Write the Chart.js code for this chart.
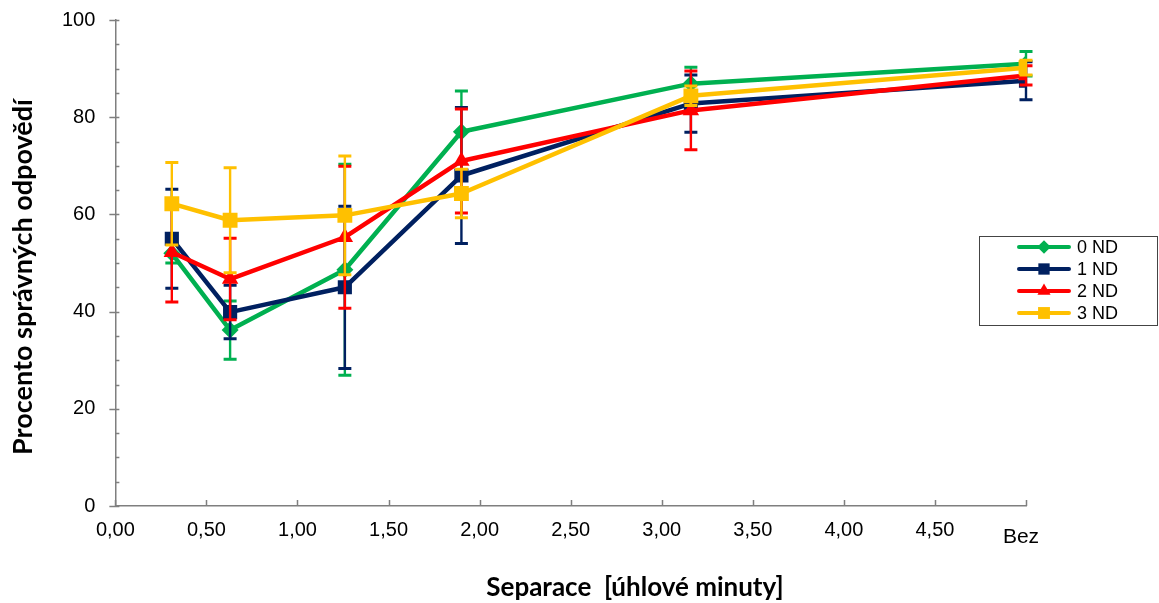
<!DOCTYPE html>
<html>
<head>
<meta charset="utf-8">
<script src="https://cdn.jsdelivr.net/npm/chart.js@4.4.1/dist/chart.umd.min.js"></script>
<style>
  html, body { margin: 0; padding: 0; background: #ffffff; }
  #wrap { width: 1159px; height: 603px; }
</style>
</head>
<body>
<div id="wrap"><canvas id="c" width="1159" height="603"></canvas></div>
<script>
// ---- data ----
const xValues = [0.31, 0.63, 1.26, 1.9, 3.16, 5];
const seriesLabels = ['0 ND', '1 ND', '2 ND', '3 ND'];
const nd0 = [52.0, 36.2, 48.6, 77.0, 86.9, 91.0];
const nd0Err = [2.0, 6.0, 21.7, 8.4, 3.4, 2.5];
const nd1 = [55.0, 39.9, 45.0, 68.0, 82.8, 87.5];
const nd1Err = [10.2, 5.5, 16.7, 14.0, 5.9, 3.9];
const nd2 = [52.2, 46.7, 55.3, 71.0, 81.4, 88.6];
const nd2Err = [10.2, 8.4, 14.6, 10.7, 8.1, 2.0];
const nd3 = [62.2, 58.8, 59.8, 64.3, 84.4, 90.2];
const nd3Err = [8.5, 10.8, 12.2, 5.0, 2.0, 1.5];
const xTickStep = 0.5;
const yTickStep = 20;
const yMinorStep = 5;
const lastTickLabel = 'Bez';
const xTitle = 'Separace  [úhlové minuty]';
const yTitle = 'Procento správných odpovědí';

const colors = ['#00B050', '#002060', '#FF0000', '#FFC000'];
const pointStyles = ['rectRot', 'rect', 'triangle', 'rect'];
const pointRadii = [8.5, 10, 9.5, 10.5];
const seriesValues = [nd0, nd1, nd2, nd3];
const seriesErrors = [nd0Err, nd1Err, nd2Err, nd3Err];

const datasets = seriesLabels.map((lab, i) => ({
  label: lab,
  data: xValues.map((x, k) => ({ x: x, y: seriesValues[i][k] })),
  errors: seriesErrors[i],
  borderColor: colors[i],
  backgroundColor: colors[i],
  borderWidth: 4.5,
  pointStyle: pointStyles[i],
  pointRadius: pointRadii[i],
  pointBorderWidth: 0,
  pointBackgroundColor: colors[i],
  tension: 0,
  order: seriesLabels.length - 1 - i
}));

const fmt = v => v.toFixed(2).replace('.', ',');

// error bars, drawn just below each series' line
const errorBars = {
  id: 'errorBars',
  beforeDatasetDraw(chart, args) {
    const ds = chart.data.datasets[args.index];
    const meta = args.meta;
    const ys = chart.scales.y;
    const ctx = chart.ctx;
    ctx.save();
    ctx.strokeStyle = ds.borderColor;
    ctx.lineCap = 'butt';
    meta.data.forEach((pt, k) => {
      const v = ds.data[k].y, e = ds.errors[k];
      const top = ys.getPixelForValue(v + e);
      const bot = ys.getPixelForValue(v - e);
      ctx.lineWidth = 2.4;
      ctx.beginPath();
      ctx.moveTo(pt.x, top); ctx.lineTo(pt.x, bot);
      ctx.stroke();
      ctx.lineWidth = 3;
      ctx.beginPath();
      ctx.moveTo(pt.x - 6.5, top); ctx.lineTo(pt.x + 6.5, top);
      ctx.moveTo(pt.x - 6.5, bot); ctx.lineTo(pt.x + 6.5, bot);
      ctx.stroke();
    });
    ctx.restore();
  }
};

// axis tick marks, titles, "Bez" label, legend
const decor = {
  id: 'decor',
  beforeDatasetsDraw(chart) {
    const ctx = chart.ctx;
    const xs = chart.scales.x, ys = chart.scales.y;
    const area = chart.chartArea;
    ctx.save();
    ctx.strokeStyle = '#7f7f7f';
    ctx.lineWidth = 1.5;
    ctx.beginPath();
    for (let v = xs.min; v <= xs.max + 1e-9; v += xTickStep) {
      const px = Math.round(xs.getPixelForValue(v)) + 0.5;
      ctx.moveTo(px, area.bottom); ctx.lineTo(px, area.bottom - 6);
    }
    for (let v = ys.min; v <= ys.max + 1e-9; v += yMinorStep) {
      const py = Math.round(ys.getPixelForValue(v)) + 0.5;
      if (Math.abs(v % yTickStep) < 1e-9) {
        ctx.moveTo(area.left - 6, py); ctx.lineTo(area.left + 4, py);
      } else {
        ctx.moveTo(area.left, py); ctx.lineTo(area.left + 4, py);
      }
    }
    ctx.stroke();
    ctx.restore();
  },
  afterDraw(chart) {
    const ctx = chart.ctx;
    const xs = chart.scales.x;
    const area = chart.chartArea;
    ctx.save();
    ctx.fillStyle = '#000';
    // "Bez" label at last x tick
    ctx.font = '21px "Liberation Sans", Arial, sans-serif';
    ctx.textAlign = 'center';
    ctx.textBaseline = 'middle';
    ctx.fillText(lastTickLabel, xs.getPixelForValue(xs.max) - 5, area.bottom + 31);
    // axis titles
    ctx.font = 'bold 26px Lato, "Open Sans", sans-serif';
    ctx.fillText(xTitle, 635, 588);
    ctx.save();
    ctx.translate(23, 277);
    ctx.rotate(-Math.PI / 2);
    ctx.font = 'bold 27px Lato, "Open Sans", sans-serif';
    ctx.fillText(yTitle, 0, 0);
    ctx.restore();
    // legend
    const lx = 979, ly = 236, lw = 180, lh = 89;
    ctx.strokeStyle = '#444';
    ctx.lineWidth = 1;
    ctx.strokeRect(lx + 0.5, ly + 0.5, lw - 2, lh);
    const rowY = [247, 269, 291, 313];
    chart.data.datasets.forEach((ds, i) => {
      const y = rowY[i];
      ctx.strokeStyle = ds.borderColor;
      ctx.lineWidth = 4;
      ctx.lineCap = 'round';
      ctx.beginPath();
      ctx.moveTo(1019, y); ctx.lineTo(1069, y);
      ctx.stroke();
      ctx.fillStyle = ds.borderColor;
      Chart.helpers.drawPoint(ctx, {
        pointStyle: ds.pointStyle, radius: ds.pointRadius * 0.8, borderWidth: 0
      }, 1044, y);
      ctx.fillStyle = '#000';
      ctx.font = '18px "Liberation Sans", Arial, sans-serif';
      ctx.textAlign = 'left';
      ctx.textBaseline = 'middle';
      ctx.fillText(ds.label, 1077, y + 1);
    });
    ctx.restore();
  }
};

new Chart(document.getElementById('c'), {
  type: 'line',
  data: { datasets: datasets },
  plugins: [errorBars, decor],
  options: {
    responsive: false,
    devicePixelRatio: 1,
    animation: false,
    layout: { padding: { left: 42, right: 133, top: 20, bottom: 49 } },
    plugins: { legend: { display: false }, tooltip: { enabled: false } },
    elements: { line: { borderJoinStyle: 'round' } },
    scales: {
      x: {
        type: 'linear', min: 0, max: 5,
        ticks: {
          stepSize: xTickStep,
          autoSkip: false,
          maxRotation: 0,
          padding: 12,
          color: '#000',
          font: { family: '"Liberation Sans", Arial, sans-serif', size: 20 },
          callback: (v) => (Math.abs(v - 5) < 1e-9 ? '' : fmt(v))
        },
        grid: { display: false, drawTicks: false },
        border: { display: true, color: '#7f7f7f', width: 1.5 }
      },
      y: {
        min: 0, max: 100,
        afterFit: (scale) => { scale.paddingTop = 11; scale.paddingBottom = 11; },
        ticks: {
          stepSize: yTickStep,
          padding: 20,
          color: '#000',
          font: { family: '"Liberation Sans", Arial, sans-serif', size: 20 }
        },
        grid: { display: false, drawTicks: false },
        border: { display: true, color: '#7f7f7f', width: 1.5 }
      }
    }
  }
});
</script>
</body>
</html>
